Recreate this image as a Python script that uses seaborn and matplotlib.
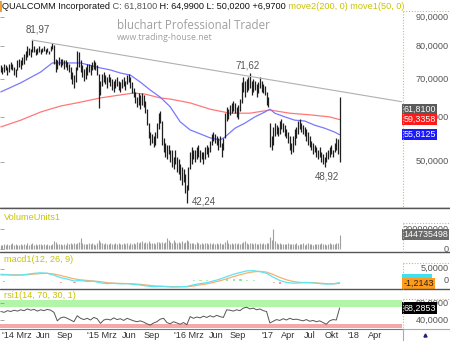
import numpy as np
import pandas as pd
import matplotlib
matplotlib.use('Agg')
import matplotlib.pyplot as plt
import matplotlib.ticker as mticker
import matplotlib.transforms as mtrans
import seaborn as sns

# ---------------- data ----------------
first_week = '2013-12-06'
price_high = [
    74.0, 73.5, 74.5, 74.0, 73.5, 74.5, 75.0, 74.5, 73.5, 73.0,
    75.5, 76.0, 75.5, 76.5, 77.5, 78.5, 80.0, 79.5, 79.0, 81.97,
    80.0, 79.0, 79.5, 80.0, 79.0, 79.5, 80.0, 79.0, 79.5, 78.5,
    80.0, 81.0, 80.5, 76.0, 75.5, 76.5, 76.0, 76.0, 75.5, 75.5,
    75.0, 74.5, 73.5, 72.0, 71.0, 73.5, 78.4, 78.0, 75.5, 74.0,
    73.0, 73.5, 74.5, 74.5, 74.0, 75.0, 75.5, 75.0, 74.0, 71.5,
    69.5, 71.5, 72.0, 71.0, 70.5, 71.5, 70.5, 70.0, 69.5, 70.0,
    70.5, 69.5, 69.0, 70.0, 70.5, 69.5, 71.0, 71.5, 70.5, 69.0,
    67.5, 66.5, 65.0, 66.0, 65.5, 66.0, 65.5, 64.0, 62.0, 58.5,
    56.5, 56.0, 55.5, 56.5, 58.5, 61.0, 61.5, 59.0, 55.0, 54.0,
    53.5, 53.5, 52.5, 52.5, 51.0, 52.5, 51.0, 50.5, 49.5, 49.0,
    48.5, 47.5, 45.5, 49.0, 52.0, 53.0, 52.5, 52.5, 53.0, 53.5,
    52.5, 52.0, 52.0, 53.0, 53.5, 53.0, 54.5, 56.0, 56.5, 56.0,
    55.5, 55.0, 55.5, 54.0, 55.0, 61.0, 62.5, 62.0, 63.0, 63.5,
    64.0, 63.5, 62.5, 63.0, 64.5, 69.0, 70.5, 69.5, 70.0, 70.5,
    71.62, 69.5, 70.0, 69.5, 68.5, 69.0, 70.5, 69.5, 68.5, 68.0,
    66.5, 65.0, 58.5, 55.5, 57.5, 58.5, 58.0, 57.5, 59.0, 59.5,
    58.5, 58.0, 57.0, 56.5, 55.5, 54.0, 55.5, 57.0, 57.5, 59.0,
    59.5, 58.5, 58.0, 57.5, 57.0, 56.5, 55.5, 54.5, 54.0, 53.5,
    53.0, 52.5, 53.0, 52.0, 51.5, 51.0, 52.0, 52.5, 53.0, 53.5,
    52.5, 54.0, 55.0, 54.9, 64.99]
price_low = [
    72.0, 71.5, 72.0, 72.5, 71.0, 72.0, 73.0, 72.5, 71.0, 70.5,
    72.5, 73.5, 73.0, 74.0, 74.5, 75.5, 76.5, 77.0, 76.5, 78.0,
    78.0, 77.0, 77.5, 78.0, 77.5, 78.0, 78.5, 77.5, 78.0, 77.5,
    78.5, 79.0, 74.5, 72.0, 73.0, 74.0, 73.5, 74.0, 73.0, 73.5,
    72.5, 72.0, 70.0, 68.5, 67.5, 69.0, 72.5, 73.5, 72.0, 70.5,
    69.5, 70.0, 71.0, 72.0, 71.0, 72.5, 73.0, 72.5, 71.0, 62.3,
    65.5, 68.0, 69.0, 68.5, 67.5, 69.0, 68.0, 67.0, 66.5, 67.5,
    68.0, 67.0, 66.5, 67.5, 68.0, 67.0, 68.5, 69.0, 67.5, 66.0,
    65.0, 63.5, 62.5, 63.0, 62.0, 63.0, 62.5, 61.0, 58.0, 55.0,
    53.5, 54.0, 53.0, 53.5, 55.0, 57.0, 58.5, 53.5, 52.0, 51.0,
    50.5, 51.5, 50.0, 49.0, 48.5, 49.5, 48.0, 47.5, 46.5, 45.5,
    46.0, 44.0, 42.24, 44.5, 48.5, 49.5, 50.5, 50.0, 50.5, 51.0,
    50.0, 50.5, 49.5, 50.5, 51.5, 51.0, 52.0, 53.5, 54.5, 54.0,
    53.5, 52.5, 53.0, 51.0, 52.5, 55.0, 59.0, 59.5, 60.5, 61.0,
    61.5, 61.0, 60.0, 59.5, 61.5, 63.5, 66.5, 65.0, 66.5, 67.0,
    67.5, 65.5, 66.5, 67.0, 65.0, 66.0, 67.5, 66.5, 66.0, 65.5,
    63.0, 62.5, 53.0, 52.5, 53.5, 55.5, 56.0, 55.5, 56.0, 57.0,
    56.5, 55.5, 55.0, 54.0, 52.5, 51.5, 52.0, 53.5, 55.0, 56.0,
    57.0, 56.5, 56.0, 55.5, 54.5, 53.5, 53.0, 52.5, 51.5, 52.0,
    51.0, 50.5, 51.0, 50.0, 49.5, 48.92, 50.0, 50.5, 51.0, 51.5,
    51.0, 52.0, 52.5, 51.5, 50.02]
volume_mio = [
    45, 40, 50, 38, 55, 42, 48, 60, 44, 52, 39, 47, 55, 43, 50, 46, 58, 41, 49, 62,
    45, 51, 40, 48, 57, 43, 50, 44, 53, 47, 41, 56, 85, 70, 52, 48, 55, 44, 50, 46,
    58, 49, 62, 54, 60, 51, 66, 72, 108, 60, 55, 49, 57, 63, 50, 58, 52, 47, 61, 95,
    70, 58, 52, 61, 49, 55, 63, 50, 57, 66, 53, 60, 48, 56, 64, 51, 59, 47, 62, 55,
    60, 53, 67, 58, 72, 85, 61, 70, 64, 80, 66, 58, 63, 55, 69, 76, 62, 71, 66, 75,
    108, 92, 70, 64, 88, 75, 60, 72, 66, 80, 62, 70, 95, 78, 65, 58, 61, 54, 68, 60,
    57, 63, 52, 66, 59, 54, 62, 50, 58, 55, 64, 51, 60, 57, 49, 70, 88, 62, 56, 59,
    52, 61, 55, 58, 50, 63, 72, 85, 60, 54, 66, 58, 52, 61, 49, 56, 62, 53, 58, 50,
    63, 58, 120, 90, 200, 80, 62, 55, 60, 52, 57, 49, 54, 60, 51, 56, 48, 53, 58, 47,
    55, 50, 58, 46, 52, 60, 49, 54, 45, 51, 57, 48, 53, 62, 50, 56, 47, 52, 59, 49,
    54, 50, 58, 62, 144.735498]
ma50_week = [0, 12, 24, 31, 36, 48, 60, 66, 72, 78, 84, 90, 96, 102, 108, 114, 120,
             126, 132, 135, 141, 147, 153, 159, 162, 165, 171, 177, 183, 189, 195, 201, 204]
ma50_value = [66.4, 68.9, 72.0, 74.7, 74.7, 74.7, 73.2, 72.6, 71.7, 71.1, 69.1, 66.9,
              65.0, 62.5, 58.8, 56.9, 56.0, 55.1, 54.6, 55.3, 57.3, 58.5, 60.0, 61.2,
              61.9, 60.9, 60.0, 59.2, 59.0, 58.0, 57.3, 56.4, 55.8125]
ma200_week = [0, 12, 24, 36, 48, 60, 72, 80, 87, 96, 102, 114, 126, 138, 150, 162,
              174, 186, 198, 204]
ma200_value = [57.6, 59.2, 61.2, 62.7, 63.7, 64.8, 65.6, 66.1, 65.8, 64.8, 64.5, 63.5,
               61.9, 60.9, 60.9, 61.7, 60.9, 60.5, 60.0, 59.3358]
trend_dates = ['2014-04-18', '2018-07-24']
trend_values = [81.97, 63.8]
extreme_labels = ['81,97', '71,62', '42,24', '48,92']
extreme_weeks = [19, 150, 112, 195]
extreme_values = [81.97, 71.62, 42.24, 48.92]

macd_line = [2.6, 2.4, 2.2, 2.3, 2.6, 3.0, 3.2, 3.0, 2.2, 1.2, 0.6, -0.2, 0.0,
             -0.4, -0.3, -1.0, -1.3, -1.2, -1.4, -1.3, -1.6, -1.9, -2.3, -2.6, -2.4,
             -2.6, -2.7, -2.6, -2.5, -1.8, -1.3, -0.9, -0.2, 0.6, 1.6, 2.6, 3.3, 4.0,
             4.1, 3.7, 3.0, 1.4, 0.0, -0.8, -1.1, -1.0, -0.8, -1.0, -1.3, -1.5, -1.4, -0.9]
macd_signal = [2.3, 2.4, 2.3, 2.3, 2.4, 2.7, 2.9, 3.0, 2.7, 2.1, 1.4, 0.7, 0.3,
               0.0, -0.2, -0.5, -0.9, -1.1, -1.2, -1.3, -1.4, -1.6, -1.9, -2.2, -2.4,
               -2.5, -2.6, -2.6, -2.6, -2.3, -1.8, -1.4, -0.8, -0.1, 0.7, 1.6, 2.4, 3.1,
               3.6, 3.8, 3.5, 2.5, 1.3, 0.3, -0.4, -0.8, -0.9, -0.9, -1.1, -1.3, -1.4, -1.2143]
macd_hist = [0.4, 0.1, -0.1, 0.1, 0.3, 0.4, 0.4, 0.1, -0.5, -0.9, -0.8, -0.9, -0.4,
             -0.4, -0.2, -0.5, -0.4, -0.2, -0.2, -0.1, -0.2, -0.3, -0.4, -0.4, -0.1,
             -0.1, -0.1, 0.1, 0.2, 0.5, 0.6, 0.6, 0.6, 0.7, 0.9, 1.0, 0.9, 0.8,
             0.5, -0.1, -0.5, -1.2, -1.4, -1.1, -0.7, -0.2, 0.1, -0.1, -0.2, -0.2, 0.1, 0.4]
rsi_values = [60, 58, 62, 60, 63, 61, 64, 62, 66, 63, 65, 61, 64, 62, 65, 63,
              58, 38, 45, 47, 44, 40, 36, 50, 44,
              41, 44, 40, 46, 43, 32, 40, 42, 40, 45, 41, 43, 39, 44, 41, 38, 36, 38, 35, 31, 28,
              33, 36, 42, 44, 34, 31, 36, 33, 30, 34, 29,
              48, 44, 47, 45, 49, 46, 50, 47, 51, 48, 46,
              64, 63, 61, 64, 62, 68, 70, 66, 68, 64, 66, 62, 60,
              33, 37, 41, 39, 43, 40, 44, 41, 42, 40,
              38, 41, 37, 39, 36, 38, 34, 30, 38, 41, 40, 68.2853]

price_ticks = [90, 80, 70, 60, 50]
price_tick_labels = ['90,0000', '80,0000', '70,0000', '60,0000', '50,0000']
volume_ticks = [200, 0]
volume_tick_labels = ['200000000', '0']
macd_ticks = [5, 0]
macd_tick_labels = ['5,0000', '0']
rsi_ticks = [80, 40]
rsi_tick_labels = ['80,0000', '40,0000']
last_close = 61.81
last_ma200 = 59.3358
last_ma50 = 55.8125
last_volume = 144.735498
last_macd = -1.2143
last_rsi = 68.2853
month_ticks = ['2014-03-01', '2014-06-01', '2014-09-01', '2015-03-01', '2015-06-01',
               '2015-09-01', '2016-03-01', '2016-06-01', '2016-09-01', '2017-01-01',
               '2017-04-01', '2017-07-01', '2017-10-01', '2018-01-01', '2018-04-01']
month_labels = ["'14 Mrz", 'Jun', 'Sep', "'15 Mrz", 'Jun', 'Sep', "'16 Mrz", 'Jun',
                'Sep', "'17", 'Apr', 'Jul', 'Okt', "'18", 'Apr']

# ---------------- frames ----------------
weeks = pd.date_range(first_week, periods=len(price_high), freq='7D')
price_df = pd.DataFrame({'date': weeks, 'high': price_high, 'low': price_low,
                         'volume': volume_mio})
ma50_df = pd.DataFrame({'date': weeks[ma50_week], 'value': ma50_value})
ma200_df = pd.DataFrame({'date': weeks[ma200_week], 'value': ma200_value})
macd_idx = list(range(0, len(price_high), 4))
macd_df = pd.DataFrame({'date': weeks[macd_idx], 'macd': macd_line,
                        'signal': macd_signal, 'hist': macd_hist})
rsi_idx = list(range(0, len(price_high), 2))
rsi_df = pd.DataFrame({'date': weeks[rsi_idx], 'rsi': rsi_values})

# ---------------- style ----------------
sns.set_theme(style='white')
plt.rcParams['font.family'] = ['Liberation Sans', 'DejaVu Sans']

W, H = 450, 341
fig = plt.figure(figsize=(W / 100, H / 100), dpi=100)
fig.patch.set_facecolor('white')


def rect(x0, y0, x1, y1):
    return [x0 / W, 1 - y1 / H, (x1 - x0) / W, (y1 - y0) / H]


XMIN = pd.Timestamp('2013-12-02 12:00')
XMAX = pd.Timestamp('2018-07-24')
GREY = '#555555'
YEL = '#c8c400'
FS = 6.6

ax = fig.add_axes(rect(0, 11.5, 402, 208))
axv = fig.add_axes(rect(0, 208, 402, 252))
axm = fig.add_axes(rect(0, 252, 402, 289))
axr = fig.add_axes(rect(0, 289, 402, 328))
ov = fig.add_axes([0, 0, 1, 1], zorder=20)
ov.set_xlim(0, W)
ov.set_ylim(H, 0)
ov.axis('off')
ov.patch.set_alpha(0)

for a in (ax, axv, axm, axr):
    a.set_facecolor('white')
    a.set_xlim(XMIN, XMAX)
    for s in a.spines.values():
        s.set_visible(False)
    a.tick_params(axis='x', bottom=False, labelbottom=False)
    a.tick_params(axis='y', which='both', left=True, right=False, labelleft=False,
                  direction='in', length=3, width=0.6, color='#999999')
    a.grid(False)


def right_labels(a, ticks, labels):
    tr = a.get_yaxis_transform()
    for v, t in zip(ticks, labels):
        a.text(449 / 402, v, t, ha='right', va='center', fontsize=FS, color=GREY,
               transform=tr, clip_on=False)


def value_box(a, v, t, fc, tc='white'):
    a.text(403.5 / 402, v, t, ha='left', va='center', fontsize=6.4, color=tc,
           transform=a.get_yaxis_transform(), clip_on=False, zorder=10,
           bbox=dict(boxstyle='square,pad=0.12', fc=fc, ec='none'))


# ---------------- main price panel ----------------
ax.set_yscale('log')
ax.set_ylim(41.43, 92.07)
ax.yaxis.set_major_locator(mticker.FixedLocator(price_ticks))
ax.yaxis.set_minor_locator(mticker.NullLocator())
ax.vlines(price_df['date'], price_df['low'], price_df['high'], color='#1e1e1e', lw=0.9,
          zorder=3)
sns.lineplot(data=ma200_df, x='date', y='value', ax=ax, color='#ff7878', lw=0.9, zorder=2)
sns.lineplot(data=ma50_df, x='date', y='value', ax=ax, color='#7878ff', lw=0.9, zorder=2)
sns.lineplot(x=pd.to_datetime(trend_dates), y=trend_values, ax=ax, color='#b0b0b0',
             lw=0.8, zorder=4)
ax.set_xlim(XMIN, XMAX)
ax.set_xlabel('')
ax.set_ylabel('')
offsets = [(5, 11), (-2, 8), (17, 2), (2, -9)]
for lab, wk, v, off in zip(extreme_labels, extreme_weeks, extreme_values, offsets):
    ax.annotate(lab, (weeks[wk], v), xytext=off, textcoords='offset pixels',
                ha='center', va='center', fontsize=7, color=GREY)
right_labels(ax, price_ticks, price_tick_labels)
value_box(ax, last_close, '61,8100', '#5a5a5a')
value_box(ax, last_ma200, '59,3358', '#ff1a1a')
value_box(ax, last_ma50, '55,8125', '#1a1aff')

# ---------------- volume panel ----------------
axv.set_ylim(-26.6, 406.9)
axv.set_yticks(volume_ticks)
axv.vlines(price_df['date'], 0, price_df['volume'], color='#a0a0a0', lw=0.8)
right_labels(axv, volume_ticks, volume_tick_labels)
value_box(axv, last_volume, '144735498', '#6a6a6a')

# ---------------- macd panel ----------------
axm.set_ylim(-3.54, 11.875)
axm.set_yticks(macd_ticks)
hist_colors = ['#66dd66' if h >= 0 else '#ff5a5a' for h in macd_df['hist']]
axm.bar(macd_df['date'], macd_df['hist'], width=14, color=hist_colors, zorder=2)
sns.lineplot(data=macd_df, x='date', y='signal', ax=axm, color='#f5b070', lw=0.9, zorder=3)
sns.lineplot(data=macd_df, x='date', y='macd', ax=axm, color='#5fe3f0', lw=0.9, zorder=3)
axm.set_xlim(XMIN, XMAX)
axm.set_xlabel('')
axm.set_ylabel('')
right_labels(axm, macd_ticks, macd_tick_labels)
value_box(axm, 0.3, '           ', '#40e0f0')
value_box(axm, last_macd, '-1,2143', '#ff9a1a', tc='#222222')

# ---------------- rsi panel ----------------
axr.set_ylim(21.18, 112.94)
axr.set_yticks(rsi_ticks)
axr.axhspan(70, 87.0, color='#b2f5a8', lw=0, zorder=0)
axr.axhspan(0, 30, color='#f5a8a8', lw=0, zorder=0)
sns.lineplot(data=rsi_df, x='date', y='rsi', ax=axr, color='#555555', lw=0.7, zorder=3)
axr.set_xlim(XMIN, XMAX)
axr.set_xlabel('')
axr.set_ylabel('')
right_labels(axr, rsi_ticks, rsi_tick_labels)
value_box(axr, last_rsi, '68,2853', '#000000')

# ---------------- x labels ----------------
tr_x = mtrans.blended_transform_factory(axr.transData, ov.transData)
for k, (d, lab) in enumerate(zip(month_ticks, month_labels)):
    dx = 0
    if ' ' in lab:
        dx = -4 if k == 0 else -6
    t = tr_x + mtrans.ScaledTranslation(dx / 100, 0, fig.dpi_scale_trans)
    ov.text(pd.Timestamp(d), 335, lab, ha='center', va='center', fontsize=6.6,
            color='#333333', transform=t)

# ---------------- frame decorations ----------------
for y in (208, 252, 289):
    ov.plot([0, W], [y, y], color='#555555', lw=1.0)
ov.plot([0, 402], [328.5, 328.5], color='#777777', lw=0.8)
ov.plot([0, W], [207, 207], color='#bbbbbb', lw=0.6)
for y0, y1 in ((11, 208), (223, 252), (263, 289), (299, 328)):
    ov.plot([402.5, 402.5], [y0, y1], color='#d8b860', lw=0.8, ls=(0, (1, 1.5)))
    ov.plot([402.5, W], [y0, y0], color='#d8b860', lw=0.8, ls=(0, (1, 1.5)))
ov.plot([402.5, 402.5], [329, 341], color='#aaaaaa', lw=0.8)
ov.plot([402.5, W], [329, 329], color='#aaaaaa', lw=0.8)
ov.plot([425], [335], marker='^', ms=2.2, color='#202080')
ov.add_patch(plt.Rectangle((0, 0.5), 1.5, 11, color='#f0a030', lw=0))

# header
t0 = ov.text(2, 6.8, 'QUALCOMM Incorporated', ha='left', va='center', fontsize=FS,
             color='#111111')
parts = [(' C: 61,8100', GREY), (' H: 64,9900 L: 50,0200 +6,9700', '#111111'),
         (' move2(200, 0) move1(50, 0)', YEL)]
prev = t0
for txt, col in parts:
    prev = ov.annotate(txt, xy=(1, 0), xycoords=prev, ha='left', va='bottom',
                       fontsize=FS, color=col)

# panel titles
ov.text(4, 218, 'VolumeUnits1', ha='left', va='center', fontsize=FS, color=YEL)
ov.text(4, 259, 'macd1(12, 26, 9)', ha='left', va='center', fontsize=FS, color=YEL)
ov.text(4, 295, 'rsi1(14, 70, 30, 1)', ha='left', va='center', fontsize=FS, color=YEL)

# watermark
ov.text(117, 25.5, 'bluchart Professional Trader', ha='left', va='center', fontsize=8.3,
        color='#a0a0a0', family=['Open Sans', 'DejaVu Sans'])
ov.text(117, 37, 'www.trading-house.net', ha='left', va='center', fontsize=6.3,
        color='#a0a0a0', family=['Open Sans', 'DejaVu Sans'])

fig.savefig('out.png', dpi=100, facecolor='white')
